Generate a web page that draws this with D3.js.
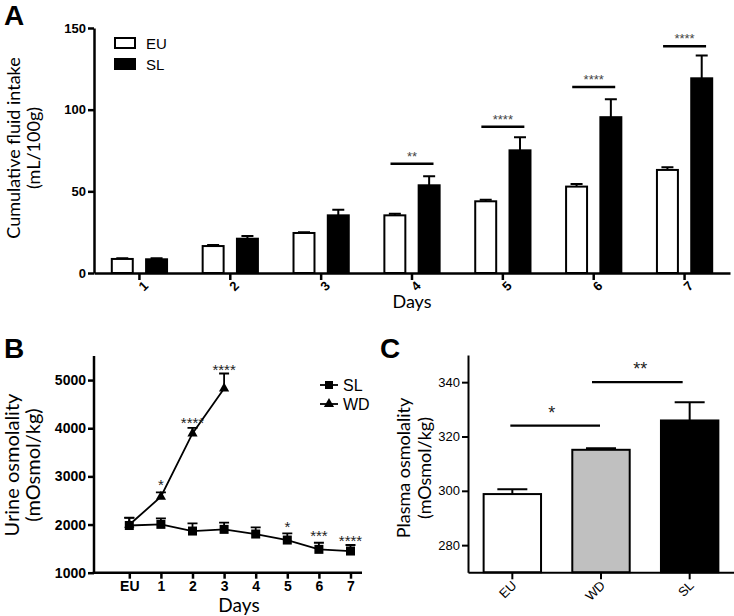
<!DOCTYPE html>
<html><head><meta charset="utf-8">
<script src="https://cdn.jsdelivr.net/npm/d3@7"></script>
<style>body{margin:0;background:#fff} svg{display:block}</style>
</head><body>
<svg id="c" width="734" height="616"></svg>
<script>
// ---------- Panel A data ----------
const daysA = ["1","2","3","4","5","6","7"];
const groupsA = ["EU","SL"];
const euIntake    = [8.6, 16.5, 24.5, 35.3, 43.9, 52.9, 63.1];
const euIntakeSem = [0.5, 0.6, 0.5, 1.0, 1.0, 1.6, 1.6];
const slIntake    = [8.4, 21.0, 35.3, 53.7, 75.1, 95.4, 119.2];
const slIntakeSem = [0.7, 1.6, 3.5, 5.6, 8.0, 11.0, 13.9];
const sigDaysA   = ["4","5","6","7"];
const sigLevelsA = [66.9, 89.6, 113.9, 138.9];
const sigLabelsA = ["**","****","****","****"];
const yTicksA = [0, 50, 100, 150];

// ---------- Panel B data ----------
const daysB = ["EU","1","2","3","4","5","6","7"];
const slUrine    = [1980, 2004, 1865, 1900, 1803, 1678, 1485, 1450];
const slUrineSem = [160, 124, 160, 140, 137, 139, 137, 125];
const wdDaysB    = ["EU","1","2","3"];
const wdUrine    = [1995, 2577, 3892, 4826];
const wdUrineSem = [150, 91, 116, 311];
const starDaysB   = ["1","2","3","5","6","7"];
const starLevelsB = [2722, 4002, 5108, 1850, 1658, 1554];
const starLabelsB = ["*","****","****","*","***","****"];
const yTicksB = [1000, 2000, 3000, 4000, 5000];

// ---------- Panel C data ----------
const groupsC = ["EU","WD","SL"];
const plasma    = [298.8, 315.1, 325.9];
const plasmaSem = [1.8, 0.6, 6.7];
const sigFromC   = ["EU","WD"];
const sigToC     = ["WD","SL"];
const sigLevelsC = [324, 340];
const sigLabelsC = ["*","**"];
const yTicksC = [280, 300, 320, 340];

const svg = d3.select("#c");
const TICKFONT = "Liberation Sans, Arial, sans-serif";
const TITLEFONT = "Lato, Carlito, sans-serif";

function styleAxis(g, w){
  g.selectAll("path.domain").attr("stroke","#000").attr("stroke-width",w);
  g.selectAll(".tick line").attr("stroke","#000").attr("stroke-width",w);
  g.selectAll(".tick text").attr("fill","#000");
}

// ================= PANEL A =================
(function(){
  const x = d3.scaleBand().domain(daysA).range([94,730]).padding(0);
  const xs = d3.scaleBand().domain(groupsA).range([0, x.bandwidth()]).paddingInner(0.33).paddingOuter(0.49);
  const y = d3.scaleLinear().domain([0,150]).range([273,28]);
  const g = svg.append("g");

  const rows = daysA.map((d,i)=>({day:d, vals:[
    {grp:"EU", v:euIntake[i], e:euIntakeSem[i]},
    {grp:"SL", v:slIntake[i], e:slIntakeSem[i]}]}));

  const dg = g.selectAll("g.day").data(rows).join("g").attr("transform",d=>`translate(${x(d.day)},0)`);
  dg.selectAll("path.err").data(d=>d.vals).join("path")
    .attr("d",d=>{const cx=xs(d.grp)+xs.bandwidth()/2; return `M${cx},${y(d.v)}V${y(d.v+d.e)}M${cx-6},${y(d.v+d.e)}H${cx+6}`;})
    .attr("stroke","#000").attr("stroke-width",2).attr("fill","none");
  dg.selectAll("rect").data(d=>d.vals).join("rect")
    .attr("x",d=>xs(d.grp)+1).attr("width",xs.bandwidth()-2)
    .attr("y",d=>y(d.v)).attr("height",d=>y(0)-y(d.v))
    .attr("fill",d=>d.grp==="EU"?"#fff":"#000").attr("stroke","#000").attr("stroke-width",2);

  const ya = g.append("g").attr("transform","translate(94,0)")
    .call(d3.axisLeft(y).tickValues(yTicksA).tickSize(6).tickSizeOuter(0).tickPadding(2));
  ya.selectAll("text").attr("font-family",TICKFONT).attr("font-size",13).attr("font-weight","bold");
  styleAxis(ya,2.5);
  const xa = g.append("g").attr("transform","translate(0,273)")
    .call(d3.axisBottom(x).tickSize(7).tickSizeOuter(0));
  xa.selectAll("text").attr("font-family",TICKFONT).attr("font-size",13).attr("font-weight","bold")
    .attr("text-anchor","end").attr("dy",0).attr("transform","translate(4,8) rotate(-45)").attr("y",8);
  styleAxis(xa,2.5);

  const sig = sigDaysA.map((d,i)=>({day:d, v:sigLevelsA[i], label:sigLabelsA[i]}));
  g.selectAll("line.sig").data(sig).join("line")
    .attr("x1",d=>x(d.day)+x.bandwidth()/2-21.5).attr("x2",d=>x(d.day)+x.bandwidth()/2+21.5)
    .attr("y1",d=>y(d.v)).attr("y2",d=>y(d.v)).attr("stroke","#000").attr("stroke-width",2.5);
  g.selectAll("text.sig").data(sig).join("text")
    .attr("x",d=>x(d.day)+x.bandwidth()/2).attr("y",d=>y(d.v)-3)
    .attr("text-anchor","middle").attr("font-family",TICKFONT).attr("font-size",13).attr("fill","#444")
    .text(d=>d.label);

  const lg = g.append("g");
  groupsA.forEach((k,i)=>{
    lg.append("rect").attr("x",115).attr("y",38+i*21).attr("width",20).attr("height",10)
      .attr("fill",k==="EU"?"#fff":"#000").attr("stroke","#000").attr("stroke-width",2);
    lg.append("text").attr("x",146).attr("y",49+i*21).attr("font-family",TICKFONT).attr("font-size",15).text(k);
  });

  g.append("text").attr("transform","translate(20,148) rotate(-90)").attr("text-anchor","middle")
    .attr("font-family",TITLEFONT).attr("font-size",18).text("Cumulative fluid intake");
  g.append("text").attr("transform","translate(40,148) rotate(-90)").attr("text-anchor","middle")
    .attr("font-family",TITLEFONT).attr("font-size",18).text("(mL/100g)");
  g.append("text").attr("x",412).attr("y",308).attr("text-anchor","middle")
    .attr("font-family",TITLEFONT).attr("font-size",18).text("Days");
  g.append("text").attr("x",4).attr("y",25).attr("font-family",TICKFONT).attr("font-weight","bold").attr("font-size",28).text("A");
})();

// ================= PANEL B =================
(function(){
  const x = d3.scalePoint().domain(daysB).range([129.3,350.5]);
  const y = d3.scaleLinear().domain([1000,5500]).range([572.7,356]);
  const g = svg.append("g");

  const sl = daysB.map((d,i)=>({d, v:slUrine[i], e:slUrineSem[i]}));
  const wd = wdDaysB.map((d,i)=>({d, v:wdUrine[i], e:wdUrineSem[i]}));
  const line = d3.line().x(p=>x(p.d)).y(p=>y(p.v));

  [sl, wd].forEach(s=>{
    g.append("path").datum(s).attr("d",line).attr("fill","none").attr("stroke","#000").attr("stroke-width",1.8);
    g.selectAll(null).data(s).join("path")
      .attr("d",p=>`M${x(p.d)},${y(p.v)}V${y(p.v+p.e)}M${x(p.d)-5},${y(p.v+p.e)}H${x(p.d)+5}`)
      .attr("stroke","#000").attr("stroke-width",1.8).attr("fill","none");
  });
  g.selectAll("rect.sl").data(sl).join("rect")
    .attr("x",p=>x(p.d)-4.5).attr("y",p=>y(p.v)-4.5).attr("width",9).attr("height",9).attr("fill","#000");
  const tri = d3.symbol().type(d3.symbolTriangle).size(45);
  g.selectAll("path.wd").data(wd).join("path")
    .attr("transform",p=>`translate(${x(p.d)},${y(p.v)})`).attr("d",tri).attr("fill","#000");

  const ya = g.append("g").attr("transform","translate(94,0)")
    .call(d3.axisLeft(y).tickValues(yTicksB).tickSize(6).tickSizeOuter(0).tickFormat(d3.format("d")).tickPadding(2));
  ya.selectAll("text").attr("font-family",TICKFONT).attr("font-size",14).attr("font-weight","bold");
  styleAxis(ya,2.5);
  ya.select("path.domain").remove();
  g.append("line").attr("x1",94).attr("x2",94).attr("y1",y(5500)).attr("y2",y(1000)+1.25).attr("stroke","#000").attr("stroke-width",2.5);
  const xa = g.append("g").attr("transform","translate(0,572.7)")
    .call(d3.axisBottom(x).tickSize(6).tickSizeOuter(0).tickPadding(2));
  xa.select("path.domain").remove();
  xa.selectAll("text").attr("font-family",TICKFONT).attr("font-size",14).attr("font-weight","bold");
  styleAxis(xa,2.5);
  g.append("line").attr("x1",92.75).attr("x2",362).attr("y1",572.7).attr("y2",572.7).attr("stroke","#000").attr("stroke-width",2.5);

  const st = starDaysB.map((d,i)=>({d, v:starLevelsB[i], label:starLabelsB[i]}));
  g.selectAll("text.st").data(st).join("text")
    .attr("x",p=>x(p.d)).attr("y",p=>y(p.v)).attr("text-anchor","middle")
    .attr("font-family",TICKFONT).attr("font-size",15).attr("fill","#222").text(p=>p.label);

  const lgItems = [{k:"SL", yy:385}, {k:"WD", yy:404}];
  lgItems.forEach(it=>{
    g.append("line").attr("x1",320).attr("x2",338).attr("y1",it.yy).attr("y2",it.yy).attr("stroke","#000").attr("stroke-width",1.8);
    if(it.k==="SL") g.append("rect").attr("x",325).attr("y",it.yy-4).attr("width",8).attr("height",8).attr("fill","#000");
    else g.append("path").attr("transform",`translate(329,${it.yy})`).attr("d",tri).attr("fill","#000");
    g.append("text").attr("x",343).attr("y",it.yy+6).attr("font-family",TICKFONT).attr("font-size",16).text(it.k);
  });

  g.append("text").attr("transform","translate(19,465) rotate(-90)").attr("text-anchor","middle")
    .attr("font-family",TITLEFONT).attr("font-size",20).text("Urine osmolality");
  g.append("text").attr("transform","translate(40,465) rotate(-90)").attr("text-anchor","middle")
    .attr("font-family",TITLEFONT).attr("font-size",20).text("(mOsmol/kg)");
  g.append("text").attr("x",239).attr("y",612).attr("text-anchor","middle")
    .attr("font-family",TITLEFONT).attr("font-size",19).text("Days");
  g.append("text").attr("x",4).attr("y",358).attr("font-family",TICKFONT).attr("font-weight","bold").attr("font-size",28).text("B");
})();

// ================= PANEL C =================
(function(){
  const x = d3.scaleBand().domain(groupsC).range([468,734]).paddingInner(0.33).paddingOuter(0.165);
  const y = d3.scaleLinear().domain([270,350]).range([572.3,355]);
  const g = svg.append("g");
  const fills = {EU:"#fff", WD:"#c0c0c0", SL:"#000"};
  const rows = groupsC.map((k,i)=>({k, v:plasma[i], e:plasmaSem[i]}));

  g.selectAll("path.err").data(rows).join("path")
    .attr("d",d=>{const cx=x(d.k)+x.bandwidth()/2; return `M${cx},${y(d.v)}V${y(d.v+d.e)}M${cx-15},${y(d.v+d.e)}H${cx+15}`;})
    .attr("stroke","#000").attr("stroke-width",2).attr("fill","none");
  g.selectAll("rect").data(rows).join("rect")
    .attr("x",d=>x(d.k)+1).attr("width",x.bandwidth()-2)
    .attr("y",d=>y(d.v)).attr("height",d=>y(270)-y(d.v))
    .attr("fill",d=>fills[d.k]).attr("stroke","#000").attr("stroke-width",2);

  const ya = g.append("g").attr("transform","translate(468,0)")
    .call(d3.axisLeft(y).tickValues(yTicksC).tickSize(6).tickSizeOuter(0).tickPadding(2));
  ya.selectAll("text").attr("font-family",TICKFONT).attr("font-size",13);
  styleAxis(ya,2);
  const xa = g.append("g").attr("transform","translate(0,572.3)")
    .call(d3.axisBottom(x).tickSize(7).tickSizeOuter(0));
  xa.selectAll("text").attr("font-family",TICKFONT).attr("font-size",13)
    .attr("text-anchor","end").attr("dy",0).attr("y",0).attr("transform","translate(5,14) rotate(-45)");
  styleAxis(xa,2);

  const sig = sigFromC.map((f,i)=>({f, t:sigToC[i], v:sigLevelsC[i], label:sigLabelsC[i]}));
  const cx = k=>x(k)+x.bandwidth()/2;
  g.selectAll("line.sig").data(sig).join("line")
    .attr("x1",d=>cx(d.f)-(d.f==="EU"?2:9)).attr("x2",d=>cx(d.t)-(d.f==="EU"?1:7))
    .attr("y1",d=>y(d.v)).attr("y2",d=>y(d.v)).attr("stroke","#000").attr("stroke-width",2.2);
  g.selectAll("text.sig").data(sig).join("text")
    .attr("x",d=>(cx(d.f)+cx(d.t))/2-5).attr("y",d=>y(d.v)-7).attr("text-anchor","middle")
    .attr("font-family",TICKFONT).attr("font-size",18).attr("fill","#222").text(d=>d.label);

  g.append("text").attr("transform","translate(410,468) rotate(-90)").attr("text-anchor","middle")
    .attr("font-family",TITLEFONT).attr("font-size",18).text("Plasma osmolality");
  g.append("text").attr("transform","translate(431,468) rotate(-90)").attr("text-anchor","middle")
    .attr("font-family",TITLEFONT).attr("font-size",18).text("(mOsmol/kg)");
  g.append("text").attr("x",380).attr("y",358).attr("font-family",TICKFONT).attr("font-weight","bold").attr("font-size",28).text("C");
})();
</script>
</body></html>
